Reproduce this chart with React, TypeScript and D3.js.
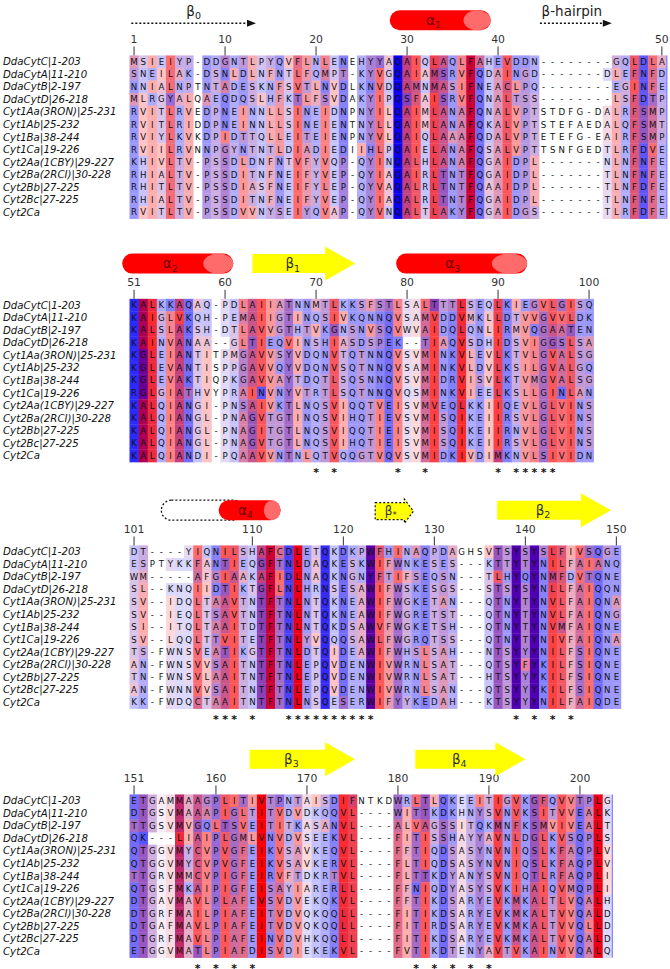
import React from 'react';
import * as d3 from 'd3';

const seqNames = [
  'DdaCytC|1-203', 'DdaCytA|11-210', 'DdaCytB|2-197', 'DdaCytD|26-218',
  'Cyt1Aa(3RON)|25-231', 'Cyt1Ab|25-232', 'Cyt1Ba|38-244', 'Cyt1Ca|19-226',
  'Cyt2Aa(1CBY)|29-227', 'Cyt2Ba(2RCI)|30-228', 'Cyt2Bb|27-225', 'Cyt2Bc|27-225', 'Cyt2Ca',
];

const block1 = [
  'MSIEIYP-DDGNTLPYQVFLNLENEHYYAQAIQLAQLFAHEVDDN--------GQLDLA',
  'SNEILAK-DSNLDLNFNTLFQMPT-KYVGQAIAMSRVFQDAINGD-------DLEFNFD',
  'NNIALNPTNTADESKNFSVTLNVDLKNVDQAMNMASIFNEACLPQ--------EGINFE',
  'MLRGYALQAEQDQSLHFKTLFSVDAKYIPQSFAISRVFQNALTSS--------LSFDTP',
  'RVITLRVEDPNEINNLLSINEIDNPNYILQAIMLANAFQNALVPTSTDFG-DALRFSMP',
  'RVITLRIDDPNEINNLLSINEIENTNYLLQAIMLANAFQKALVPTSTEFAEDALQFSMT',
  'RVIYLKVKDPIDTTQLLEITEIENPNYVLQAIQLAAAFQDALVPTETEFG-EAIRFSMP',
  'RVIILRVNNPGYNTNTLDIADIEDIIHLPQAIELANAFQSALVPTTSNFGEDTLRFDVE',
  'KHIVLTV-PSSDLDNFNTVFYVQP-QYINQALHLANAFQGAIDPL-------NLNFNFE',
  'RHIALTV-PSSDITNFNEIFYVEP-QYIAQAIRLTNTFQGAIDPL-------TLNFNFE',
  'RHITLTV-PSSDIASFNEIFYLEP-QYVAQALRLTNTFQAAIDPL-------TLNFDFE',
  'RHIALTV-PSSDITNFNEIFYVEP-QYIAQALRLTNTFQGAIDPL-------TLNFNFE',
  'RVITLTV-PSSDVVNYSEIYQVAP-QYVNQALTLAKYFQGAIDGS-------TLRFDFE',
];

const block2 = [
  'KALKKAQAQ-PDLAIIATNNMTLKKSFSTLSALTTTLSEQLKIEGVLGISQ',
  'KAIGLVKQH-PEMAIIGTINQSIVKQNNQVSAMVDDVMKLLDTVVGVVLDK',
  'KALSLAKSH-DTLAVVGTHTVKGNSNVSQVWVAIDQLQNLIRMVQGAATEN',
  'KAINVANAA--GLTIEQVINSHIASDSPEK--TIAQVSDHIDSVIGGSLSA',
  'KGLEIANTITPMGAVVSYVDQNVTQTNNQVSVMINKVLEVLKTVLGVALSG',
  'KGLEVANTISPPGAVVQYVDQNVSQTNNQVSAMINKVLDVLKSILGVALGQ',
  'KGLEVAKTIQPKGAVVAYTDQTLSQSNNQVSVMIDRVISVLKTVMGVALSG',
  'RGLGIATHVYPRAINVNYVTRTLSQTNNQVQSMINKVIEELKSLLGINLAN',
  'KALQIANGI-PNSAIVKTLNQSVIQQTVEISVMVEQLKKIIQEVLGLVINS',
  'KALQIANGL-PNAGVTGTINQSVIHQTIEVSVMISQIKEIIRSVLGLVINS',
  'KALQIANGL-PNAGITGTLNQSVIQQTIEISVMISQIKEIIRNVLGLVINS',
  'KALQIANGL-PNAGVTGTLNQSVIHQTIEISVMISQIKEIIRSVLGLVINS',
  'KALQIANDI-PQAAVVNTNLQTVQQGTVQVSVMIDKIVDIMKNVLSIVIDN',
];

const block3 = [
  'DT----YIQNILSHAFCDLETQKDKPWFHINAQPDAGHSVTSYSYSLFIVSQGE',
  'ESPTYKKFANTIEQGFTNLDAQKESKWIFWNKESES---KTTYTYNILFAIANQ',
  'WM-----AFGIAAKAFIDLNAQKNGNYFTIFSEQSN---TLHYQYNMFDVTQNE',
  'SL--KNQIIDTIKTGFLNLHRNSESAWIFWSKESGS---STSYSYNLLFAIQQN',
  'SV--IDQLTAAVTNTFTNLNTQKNEAWIFWGKETAN---QTNYTYNVLFAIQNA',
  'SV--IEQLTSAVTNTFTNLNTQKNEAWIFWGRETST---QTNYTYNVLFAIQNG',
  'SI--ITQLTAAITDTFTNLNTQKDSAWVFWGKETSH---QTNYTYNVMFAIQNE',
  'SV--LQQLTTVITETFTNLYVQQQSAWLFWGRQTSS---QTNYTYNIVFAIQNA',
  'TS-FWNSVEATIKGTFTNLDTQIDEAWIFWHSLSAH---NTSYYYNILFSIQNE',
  'AN-FWNSVVSAITNTFTNLEPQVDENWIVWRNLSAT---QTSYFYKILFSIQNE',
  'TN-FWNSVLAAITNTFTNLEPQVDENWIVWRNLSAT---HTSYYYKILFSIQNE',
  'AN-FWNNVVSAITNTFTNLEPQVDENWIVWRNLSAN---QTSYYYKILFSIQNE',
  'KK-FWDQCTAAITNTFTNLNSQESERWIFYYKEDAH---KTSYYYNILFAIQDE',
];

const block4 = [
  'ETGAMMAAGPLITIVTPNTAISDIFNTKDWRLTLQKEEITIGVKGFQVVTPLG',
  'DTGSVMAAAPIGLTITVDVDKQQVL----WITTKDKHNYSVNVKSITVVEALK',
  'TTGSVMVGQLTSVEITITKASANVL----ALVAGSSITQKMNFKSMVIVEALT',
  'QK---LIAIPLGMLVNVDVSEEKVL----FITISSHAYYAVNLDGLKVSQPLS',
  'QTGGVMYCVPVGFEIKVSAVKEQVL----FFTIQDSASYNVNIQSLKFAQPLV',
  'QTGGVMYCVPVGFEIKVSAVKERVL----FLTIQDSASYNVNIQSLKFAQPLV',
  'TTGRVMMCVPIGFEIRVFTDKRTVL----FLTTKDYANYSVNIQTLRFAQPLI',
  'QTGSFMKAIPIGFEISAYIARERLL----FFNIQDYASYSVKIHAIQVMQPLI',
  'DTGAVMAVLPLAFEVSVDVEKQKVL----FFTIKDSARYEVKMKALTLVQALH',
  'DTGRFMAILPIAFEITVDVQKQQLL----FITIKDSARYEVKMKALTVVQALD',
  'DTGAFMAVLPIAFEITVDVQKQQLL----FITIRDSARYEVKMKALTVVQLLD',
  'DTGRFMAVLPIAFEINVDVHKQQLL----FITIKDSARYEVKMKALTVVQALD',
  'ETGGVMATLPIAFDISVDIEKEKVL----FVTIKDTENYAVTVKAINVVQALQ',
];

const blocks = [block1, block2, block3, block4];
const blockFirstResidue = [1, 51, 101, 151];

// columns (1-based within block) marked with an asterisk
const starCols = [
  [],
  [21, 23, 30, 33, 41, 43, 44, 45, 46, 47],
  [10, 11, 12, 14, 18, 19, 20, 21, 22, 23, 24, 25, 26, 27, 43, 45, 47, 49],
  [8, 10, 12, 14, 32, 34, 36, 38, 40],
];

// secondary structure annotations, in column units within a block
const helixBlock = [0, 1, 1, 2];
const helixLabel = ['1', '2', '3', '4'];
const helixStart = [28.6, -0.8, 29.3, 9.8];
const helixEnd = [39.7, 11.4, 43.7, 16.6];

const strandBlock = [1, 2, 3, 3];
const strandLabel = ['1', '2', '3', '4'];
const strandStart = [13.5, 40.4, 13.2, 31.4];
const strandEnd = [24.8, 52.9, 24.8, 43.5];

const dottedArrowBlock = [0, 0];
const dottedArrowLabel = ['β0', 'β-hairpin'];
const dottedArrowStart = [0.2, 45.1];
const dottedArrowEnd = [13.9, 53.0];

const loopPill = { block: 2, start: 3.5, end: 12.5 };
const betaStar = { block: 2, start: 27.0, end: 31.2 };

const hydroScale: Record<string, number> = {
  A: 1.8, R: -4.5, N: -3.5, D: -3.5, C: 2.5, Q: -3.5, E: -3.5, G: -0.4, H: -3.2, I: 4.5,
  L: 3.8, K: -3.9, M: 1.9, F: 2.8, P: -1.6, S: -0.8, T: -0.7, W: -0.9, Y: -1.3, V: 4.2,
};

const propertySets = [
  'ILVCAGMFYWHKT', 'YWHKREQDNST', 'IVCAGDNSTP', 'HKR', 'DE', 'HKRED', 'FYWH', 'ILV', 'GASC', 'P',
];

const CONS_INC = 17;

function hasProp(c: string, set: string) {
  if (c === '-') return true;
  return set.includes(c);
}

function columnScore(chars: string[]): number {
  const n = chars.length;
  const gaps = chars.filter((c) => c === '-').length;
  if ((gaps * 100) / n >= 25) return -1;
  const present = Array.from(new Set(chars));
  let count = 0;
  for (const set of propertySets) {
    const v = hasProp(present[0], set);
    if (present.every((c) => hasProp(c, set) === v)) count++;
  }
  return count;
}

const redFrac = d3.scaleLinear().domain([-3.9, 4.5]).range([0, 1]).clamp(true);

function residueColor(c: string, score: number): string | null {
  if (c === '-') return null;
  if (score < 0) return null;
  const r = redFrac(hydroScale[c] ?? 0);
  let R = Math.round(r * 255), G = 0, B = Math.round((1 - r) * 255);
  if (score < 10) {
    const f = ((11 - score) / 10) * (CONS_INC / 20);
    if (f >= 1) return null;
    R = R + (255 - R) * f;
    G = G + (255 - G) * f;
    B = B + (255 - B) * f;
  }
  return d3.rgb(R, G, B).formatHex();
}

export default function App() {
  const W = 670, H = 969;
  const x0 = 129.5, cw = 9.1, rowStep = 12.55;
  const blockRow0 = [61.7, 305.1, 551.7, 800.7];
  const nRows = seqNames.length;

  const xScales = blocks.map((b) =>
    d3.scaleLinear().domain([0, b[0].length]).range([x0, x0 + b[0].length * cw])
  );
  const yScales = blockRow0.map((y) =>
    d3.scaleLinear().domain([0, nRows - 1]).range([y, y + (nRows - 1) * rowStep])
  );

  const elems: React.ReactNode[] = [];

  blocks.forEach((blk, bi) => {
    const xs = xScales[bi];
    const ys = yScales[bi];
    const ncol = blk[0].length;
    const scores = d3.range(ncol).map((ci) => columnScore(blk.map((s) => s[ci])));

    seqNames.forEach((nm, ri) => {
      elems.push(
        <text key={`n${bi}-${ri}`} x={3} y={ys(ri)} dy="0.35em" fontSize={10.2}
          fontStyle="italic" fill="#111">{nm}</text>
      );
    });

    blk.forEach((seq, ri) => {
      seq.split('').forEach((c, ci) => {
        const col = residueColor(c, scores[ci]);
        if (col) {
          elems.push(
            <rect key={`r${bi}-${ri}-${ci}`} x={xs(ci)} y={ys(ri) - rowStep / 2}
              width={cw + 0.35} height={rowStep + 0.35} fill={col} />
          );
        }
      });
    });
    blk.forEach((seq, ri) => {
      seq.split('').forEach((c, ci) => {
        elems.push(
          <text key={`t${bi}-${ri}-${ci}`} x={xs(ci + 0.5)} y={ys(ri)} dy="0.36em"
            textAnchor="middle" fontSize={8.6} fill="#111">{c}</text>
        );
      });
    });

    // ruler from first sequence numbering
    let res = blockFirstResidue[bi] - 1;
    blk[0].split('').forEach((c, ci) => {
      if (c === '-') return;
      res++;
      if (res === blockFirstResidue[bi] || res % 10 === 0) {
        const cx = xs(ci + 0.5);
        const top = ys(0) - rowStep / 2;
        elems.push(
          <g key={`ru${bi}-${ci}`}>
            <text x={cx} y={top - 12.5} textAnchor="middle" fontSize={10.8} fill="#333">{res}</text>
            <line x1={cx} x2={cx} y1={top - 9} y2={top} stroke="#333" strokeWidth={1} />
          </g>
        );
      }
    });

    starCols[bi].forEach((c) => {
      elems.push(
        <text key={`s${bi}-${c}`} x={xs(c - 0.5)} y={ys(nRows - 1) + 20.5} textAnchor="middle"
          fontSize={11} fontWeight="bold" fill="#111">*</text>
      );
    });
  });

  [0, 3].forEach((bi) => {
    const xs = xScales[bi];
    const ys = yScales[bi];
    const xr = xs(blocks[bi][0].length) + 0.5;
    elems.push(
      <line key={`bl${bi}`} x1={xr} x2={xr} y1={ys(0) - rowStep / 2} y2={ys(nRows - 1) + rowStep / 2}
        stroke="#6a6aff" strokeWidth={1} />
    );
  });

  const ssOffset = -41.5;

  dottedArrowBlock.forEach((bi, i) => {
    const xs = xScales[bi];
    const cy = blockRow0[bi] - 38.5;
    const xa = xs(dottedArrowStart[i]);
    const xb = xs(dottedArrowEnd[i]);
    const lbl = dottedArrowLabel[i];
    elems.push(
      <g key={`da${i}`}>
        <line x1={xa} x2={xb - 7} y1={cy} y2={cy} stroke="#111" strokeWidth={1.6} strokeDasharray="2 2" />
        <path d={`M${xb},${cy} L${xb - 9},${cy - 3.5} L${xb - 9},${cy + 3.5} Z`} fill="#111" />
        {lbl === 'β0' ? (
          <text x={(xa + xb) / 2} y={blockRow0[bi] - 46} textAnchor="middle" fontSize={13.5} fill="#222">
            β<tspan dy={3.5} fontSize={9.5}>0</tspan>
          </text>
        ) : (
          <text x={(xa + xb) / 2 - 4} y={blockRow0[bi] - 46} textAnchor="middle" fontSize={13.5} fill="#222">{lbl}</text>
        )}
      </g>
    );
  });

  {
    const xs = xScales[loopPill.block];
    const cy = blockRow0[loopPill.block] + ssOffset;
    const h = 20;
    elems.push(
      <rect key="pill" x={xs(loopPill.start)} y={cy - h / 2} width={xs(loopPill.end) - xs(loopPill.start)}
        height={h} rx={h / 2} ry={h / 2} fill="none" stroke="#111" strokeWidth={1.3} strokeDasharray="2 2" />
    );
  }

  helixBlock.forEach((bi, i) => {
    const xs = xScales[bi];
    const cy = blockRow0[bi] + ssOffset;
    const h = 20;
    const xa = xs(helixStart[i]);
    const xb = xs(helixEnd[i]);
    const w = xb - xa;
    const lw = w * 0.27;
    elems.push(
      <g key={`h${i}`}>
        <rect x={xa} y={cy - h / 2} width={w} height={h} rx={h / 2} ry={h / 2} fill="#ff0000" />
        <ellipse cx={xb - lw / 2} cy={cy} rx={lw / 2} ry={h / 2} fill="#ff6b6b" />
        <text x={xa + w / 2 - lw * 0.25} y={cy + 4.5} textAnchor="middle" fontSize={13.5} fill="#6e0000">
          α<tspan dy={3.5} fontSize={9.5}>{helixLabel[i]}</tspan>
        </text>
      </g>
    );
  });

  strandBlock.forEach((bi, i) => {
    const xs = xScales[bi];
    const cy = blockRow0[bi] + ssOffset;
    const bh = 19, hh = 34, hl = 30;
    const xa = xs(strandStart[i]);
    const xb = xs(strandEnd[i]);
    const d = `M${xa},${cy - bh / 2} L${xb - hl},${cy - bh / 2} L${xb - hl},${cy - hh / 2} L${xb},${cy} L${xb - hl},${cy + hh / 2} L${xb - hl},${cy + bh / 2} L${xa},${cy + bh / 2} Z`;
    elems.push(
      <g key={`st${i}`}>
        <path d={d} fill="#ffff00" />
        <text x={(xa + xb - hl) / 2 + 4} y={cy + 4.5} textAnchor="middle" fontSize={13.5} fill="#333">
          β<tspan dy={3.5} fontSize={9.5}>{strandLabel[i]}</tspan>
        </text>
      </g>
    );
  });

  {
    const xs = xScales[betaStar.block];
    const cy = blockRow0[betaStar.block] + ssOffset + 1;
    const bh = 17, hh = 24, hl = 9;
    const xa = xs(betaStar.start);
    const xb = xs(betaStar.end);
    const d = `M${xa},${cy - bh / 2} L${xb - hl},${cy - bh / 2} L${xb - hl},${cy - hh / 2} L${xb},${cy} L${xb - hl},${cy + hh / 2} L${xb - hl},${cy + bh / 2} L${xa},${cy + bh / 2} Z`;
    elems.push(
      <g key="bstar">
        <path d={d} fill="#ffff00" stroke="#111" strokeWidth={1.2} strokeDasharray="2 2" />
        <text x={(xa + xb - hl) / 2 + 1} y={cy + 4} textAnchor="middle" fontSize={12} fill="#333">
          β<tspan dy={3} fontSize={8.5}>*</tspan>
        </text>
      </g>
    );
  }

  return (
    <svg width={W} height={H} viewBox={`0 0 ${W} ${H}`}
      style={{ position: 'absolute', left: 0, top: 0, background: '#ffffff' }}
      fontFamily="'DejaVu Sans', sans-serif">
      <rect x={0} y={0} width={W} height={H} fill="#ffffff" />
      {elems}
    </svg>
  );
}
